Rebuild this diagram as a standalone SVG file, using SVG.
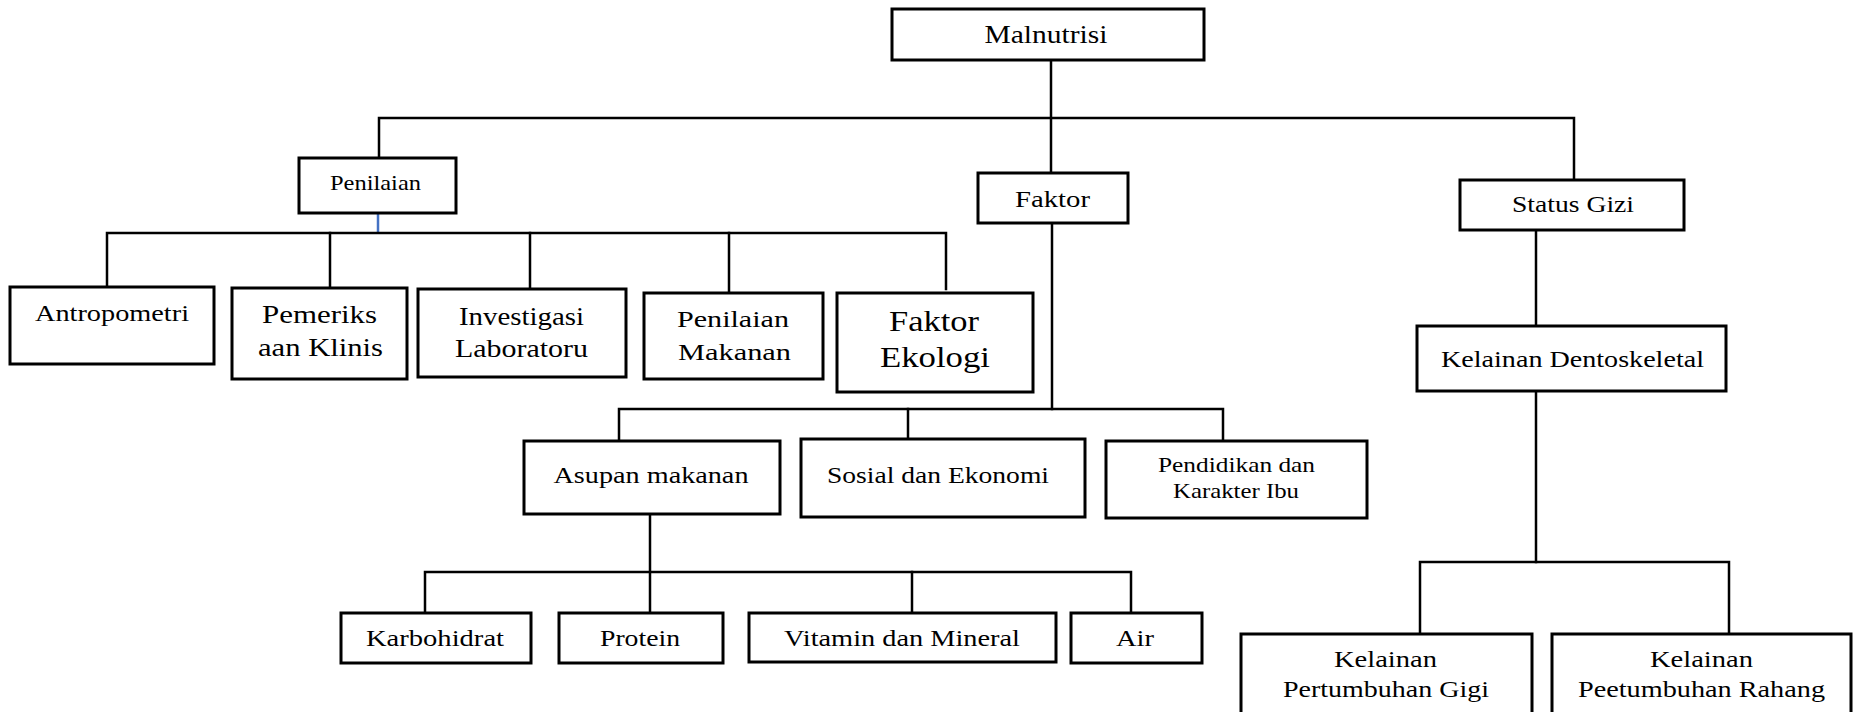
<svg xmlns="http://www.w3.org/2000/svg" width="1857" height="712" viewBox="0 0 1857 712">
<style>
.box{fill:#fff;stroke:#000;stroke-width:3}
.ln{fill:none;stroke:#000;stroke-width:2.5;stroke-linecap:square}
text{font-family:"Liberation Serif","Times New Roman",serif;fill:#000;text-anchor:middle}
.f21{font-size:21px}.f22{font-size:22px}.f23{font-size:23px}.f24{font-size:24px}.f25{font-size:25px}.f26{font-size:26px}.f29{font-size:29px}
</style>
<rect width="1857" height="712" fill="#fff"/>
<g id="connectors">
<path class="ln" d="M1051 60V173"/>
<path class="ln" d="M379 158V118H1574V180"/>
<path d="M378 214V232" stroke="#4472C4" stroke-width="2.5" fill="none"/>
<path class="ln" d="M107 287V233H946V289"/>
<path class="ln" d="M330 233V288M530 233V289M729 233V293"/>
<path class="ln" d="M1052 223V409"/>
<path class="ln" d="M619 441V409H1223V441"/>
<path class="ln" d="M908 409V439"/>
<path class="ln" d="M650 514V613"/>
<path class="ln" d="M425 613V572H1131V613"/>
<path class="ln" d="M912 572V613"/>
<path class="ln" d="M1536 230V326"/>
<path class="ln" d="M1536 391V562"/>
<path class="ln" d="M1420 634V562H1729V634"/>
</g>
<g id="malnutrisi"><rect class="box" x="892" y="9" width="312" height="51"/><text class="f26" x="1046" y="43" textLength="123" lengthAdjust="spacingAndGlyphs">Malnutrisi</text></g>
<g id="penilaian"><rect class="box" x="299" y="158" width="157" height="55"/><text class="f21" x="375.5" y="190" textLength="91" lengthAdjust="spacingAndGlyphs">Penilaian</text></g>
<g id="faktor"><rect class="box" x="978" y="173" width="150" height="50"/><text class="f23" x="1052.5" y="207" textLength="75" lengthAdjust="spacingAndGlyphs">Faktor</text></g>
<g id="status-gizi"><rect class="box" x="1460" y="180" width="224" height="50"/><text class="f23" x="1573" y="212" textLength="122" lengthAdjust="spacingAndGlyphs">Status Gizi</text></g>
<g id="antropometri"><rect class="box" x="10" y="287" width="204" height="77"/><text class="f24" x="112" y="321" textLength="154" lengthAdjust="spacingAndGlyphs">Antropometri</text></g>
<g id="pemeriksaan"><rect class="box" x="232" y="288" width="175" height="91"/><text class="f25" x="319.5" y="323" textLength="115" lengthAdjust="spacingAndGlyphs">Pemeriks</text><text class="f25" x="320.5" y="356" textLength="125" lengthAdjust="spacingAndGlyphs">aan Klinis</text></g>
<g id="investigasi"><rect class="box" x="418" y="289" width="208" height="88"/><text class="f25" x="521.5" y="325" textLength="125" lengthAdjust="spacingAndGlyphs">Investigasi</text><text class="f25" x="521.5" y="357" textLength="133" lengthAdjust="spacingAndGlyphs">Laboratoru</text></g>
<g id="penilaian-makanan"><rect class="box" x="644" y="293" width="179" height="86"/><text class="f24" x="733" y="327" textLength="112" lengthAdjust="spacingAndGlyphs">Penilaian</text><text class="f24" x="734.5" y="360" textLength="113" lengthAdjust="spacingAndGlyphs">Makanan</text></g>
<g id="faktor-ekologi"><rect class="box" x="837" y="293" width="196" height="99"/><text class="f29" x="934" y="331" textLength="90" lengthAdjust="spacingAndGlyphs">Faktor</text><text class="f29" x="935" y="367" textLength="110" lengthAdjust="spacingAndGlyphs">Ekologi</text></g>
<g id="kelainan-dentoskeletal"><rect class="box" x="1417" y="326" width="309" height="65"/><text class="f23" x="1572.5" y="367" textLength="263" lengthAdjust="spacingAndGlyphs">Kelainan Dentoskeletal</text></g>
<g id="asupan-makanan"><rect class="box" x="524" y="441" width="256" height="73"/><text class="f23" x="651" y="483" textLength="195" lengthAdjust="spacingAndGlyphs">Asupan makanan</text></g>
<g id="sosial-ekonomi"><rect class="box" x="801" y="439" width="284" height="78"/><text class="f23" x="938" y="483" textLength="222" lengthAdjust="spacingAndGlyphs">Sosial dan Ekonomi</text></g>
<g id="pendidikan"><rect class="box" x="1106" y="441" width="261" height="77"/><text class="f22" x="1236.5" y="472" textLength="157" lengthAdjust="spacingAndGlyphs">Pendidikan dan</text><text class="f22" x="1236" y="498" textLength="126" lengthAdjust="spacingAndGlyphs">Karakter Ibu</text></g>
<g id="karbohidrat"><rect class="box" x="341" y="613" width="190" height="50"/><text class="f24" x="435" y="646" textLength="138" lengthAdjust="spacingAndGlyphs">Karbohidrat</text></g>
<g id="protein"><rect class="box" x="559" y="613" width="164" height="50"/><text class="f24" x="640" y="646" textLength="80" lengthAdjust="spacingAndGlyphs">Protein</text></g>
<g id="vitamin"><rect class="box" x="749" y="613" width="307" height="49"/><text class="f24" x="902" y="646" textLength="236" lengthAdjust="spacingAndGlyphs">Vitamin dan Mineral</text></g>
<g id="air"><rect class="box" x="1071" y="613" width="131" height="50"/><text class="f24" x="1135" y="646" textLength="38" lengthAdjust="spacingAndGlyphs">Air</text></g>
<g id="kelainan-gigi"><rect class="box" x="1241" y="634" width="291" height="90"/><text class="f24" x="1385.5" y="667" textLength="103" lengthAdjust="spacingAndGlyphs">Kelainan</text><text class="f24" x="1386" y="697" textLength="206" lengthAdjust="spacingAndGlyphs">Pertumbuhan Gigi</text></g>
<g id="kelainan-rahang"><rect class="box" x="1552" y="634" width="299" height="90"/><text class="f24" x="1701.5" y="667" textLength="103" lengthAdjust="spacingAndGlyphs">Kelainan</text><text class="f24" x="1701.5" y="697" textLength="247" lengthAdjust="spacingAndGlyphs">Peetumbuhan Rahang</text></g>
</svg>
